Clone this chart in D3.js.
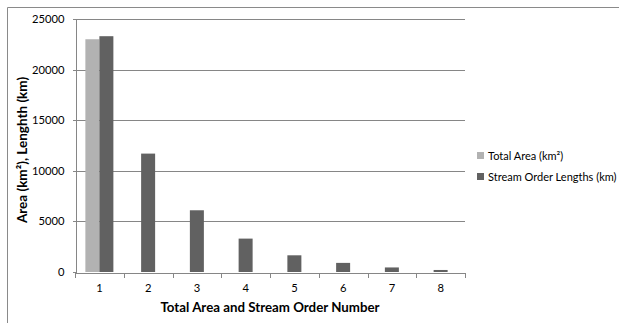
<!DOCTYPE html>
<html lang="en">
<head>
<meta charset="utf-8">
<title>Total Area and Stream Order Lengths</title>
<script src="https://cdn.jsdelivr.net/npm/d3@7"></script>
<style>
  body { margin: 0; background: #fff; }
  text { font-family: Lato, "Open Sans", sans-serif; fill: #000; }
  .axis path, .axis line { stroke: #868686; shape-rendering: crispEdges; }
  .grid line { stroke: #868686; shape-rendering: crispEdges; }
</style>
</head>
<body>
<script>
// data
var orders = ["1", "2", "3", "4", "5", "6", "7", "8"];
var totalArea = [23000, null, null, null, null, null, null, null];
var streamLengths = [23300, 11700, 6100, 3300, 1650, 900, 450, 200];
var yTicks = [0, 5000, 10000, 15000, 20000, 25000];
var seriesNames = ["Total Area (km²)", "Stream Order Lengths (km)"];
var colors = ["#b2b2b2", "#616161"];

var w = 619, h = 323;
var plotL = 75, plotR = 465, plotT = 19, plotB = 272;

var svg = d3.select("body").append("svg")
  .attr("width", w)
  .attr("height", h);

// outer frame (only top and left visible)
svg.append("path")
  .attr("d", "M7.5," + h + "V7.5H" + w)
  .attr("fill", "none")
  .attr("stroke", "#8a8a8a");

var x = d3.scaleBand().domain(orders).range([plotL, plotR]);
var y = d3.scaleLinear().domain([0, 25000]).range([plotB, plotT]);
var inner = d3.scaleBand().domain([0, 1]).range([0, 28]);

// gridlines
svg.append("g").attr("class", "grid")
  .selectAll("line")
  .data(yTicks.slice(1))
  .enter().append("line")
  .attr("x1", plotL).attr("x2", plotR)
  .attr("y1", function(d) { return Math.round(y(d)) + 0.5; })
  .attr("y2", function(d) { return Math.round(y(d)) + 0.5; });

// bars
var series = [totalArea, streamLengths];
series.forEach(function(vals, s) {
  svg.append("g").selectAll("rect")
    .data(vals.map(function(v, i) { return { o: orders[i], v: v }; }).filter(function(d) { return d.v != null; }))
    .enter().append("rect")
    .attr("x", function(d) {
      var bx = x(d.o) + x.bandwidth() / 2;
      // lone bar is centered in its band; pair is split around the center
      if (d.o !== "1") return bx - 7;
      return bx - 14 + inner(s);
    })
    .attr("width", 14)
    .attr("y", function(d) { return y(d.v); })
    .attr("height", function(d) { return plotB - y(d.v); })
    .attr("fill", colors[s]);
});

// y axis
var yAxis = svg.append("g").attr("class", "axis")
  .attr("transform", "translate(" + (plotL + 0.5) + ",0)")
  .call(d3.axisLeft(y).tickValues(yTicks).tickFormat(d3.format("d")).tickSizeInner(3).tickSizeOuter(0).tickPadding(8));
yAxis.selectAll("text").style("font-size", "11.2px");

// x axis
var xAxis = svg.append("g").attr("class", "axis")
  .attr("transform", "translate(0," + (plotB + 0.5) + ")")
  .call(d3.axisBottom(x).tickSize(0).tickPadding(12));
xAxis.selectAll("text").style("font-size", "11.2px");
xAxis.selectAll(".sep")
  .data(d3.range(orders.length + 1))
  .enter().append("line")
  .attr("class", "sep")
  .attr("x1", function(i) { return Math.round(plotL + i * x.step()) + 0.5; })
  .attr("x2", function(i) { return Math.round(plotL + i * x.step()) + 0.5; })
  .attr("y1", 0).attr("y2", 5);

// axis titles
svg.append("text")
  .attr("x", 270)
  .attr("y", 312)
  .attr("text-anchor", "middle")
  .style("font-size", "13.3px")
  .style("font-weight", "bold")
  .text("Total Area and Stream Order Number");

svg.append("text")
  .attr("transform", "translate(27,150) rotate(-90)")
  .attr("text-anchor", "middle")
  .style("font-size", "13.5px")
  .style("font-weight", "bold")
  .text("Area (km²), Lenghth (km)");

// legend
var legend = svg.append("g").attr("transform", "translate(477,152)");
seriesNames.forEach(function(name, i) {
  var row = legend.append("g").attr("transform", "translate(0," + (i * 21) + ")");
  row.append("rect").attr("width", 7).attr("height", 7).attr("fill", colors[i]);
  row.append("text").attr("x", 11).attr("y", 7.5).style("font-size", "11px").text(name);
});
</script>
</body>
</html>
